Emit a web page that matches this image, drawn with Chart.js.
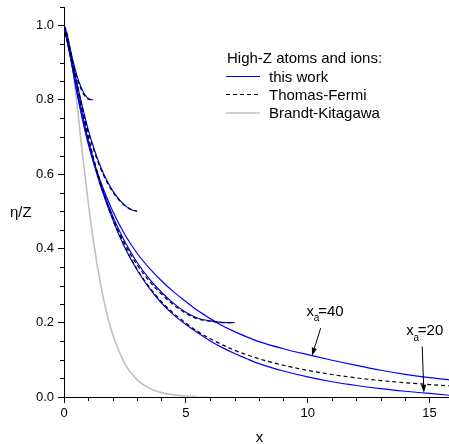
<!DOCTYPE html>
<html><head><meta charset="utf-8">
<script src="https://cdn.jsdelivr.net/npm/chart.js@4"></script>
<style>html,body{margin:0;padding:0;background:#fff;}</style>
</head><body>
<canvas id="c" width="449" height="444"></canvas>
<script>
// ---- data ----
const xTickLabels = [0, 5, 10, 15];
const yTickLabels = ['0.0', '0.2', '0.4', '0.6', '0.8', '1.0'];
const legendTitle = 'High-Z atoms and ions:';
const seriesNames = ['this work', 'Thomas-Fermi', 'Brandt-Kitagawa'];

// Thomas-Fermi, neutral atom
const tfX = [0,0.1,0.2,0.3,0.4,0.5,0.6,0.8,1.0,1.25,1.5,2,2.5,3,3.5,4,4.5,5,5.5,6,7,8,9,10,11,12,13,14,15,16];
const tfY = [1,0.981,0.952,0.919,0.886,0.852,0.819,0.756,0.698,0.632,0.574,0.479,0.404,0.344,0.296,0.257,0.225,0.199,0.176,0.157,0.126,0.103,0.0855,0.0715,0.0605,0.0515,0.0443,0.0384,0.0335,0.0294];

// this work, neutral atoms (x_a = 40 and x_a = 20)
const twX = [0,0.25,0.5,0.75,1,1.25,1.5,2,2.5,3,3.5,4,4.5,5,5.5,6,6.5,7,7.5,8,9,10,11,12,13,14,15,16];
const twY40 = [1,0.922,0.832,0.752,0.684,0.627,0.58,0.5,0.437,0.387,0.347,0.313,0.283,0.257,0.232,0.211,0.192,0.176,0.162,0.149,0.13,0.114,0.099,0.085,0.072,0.061,0.052,0.045];
const twY20 = [1,0.92,0.83,0.75,0.68,0.622,0.568,0.478,0.402,0.342,0.293,0.253,0.221,0.195,0.172,0.151,0.133,0.117,0.103,0.09,0.07,0.054,0.041,0.031,0.0225,0.0155,0.0095,0.0035];

// ions: this work (blue) and Thomas-Fermi (dashed)
const ion1X = [0,0.1,0.2,0.3,0.4,0.5,0.6,0.7,0.8,0.9,1.0,1.1,1.2];
const ion1Tw = [1,0.981,0.953,0.924,0.897,0.872,0.851,0.834,0.82,0.81,0.804,0.801,0.8];
const ion1Tf = [1,0.98,0.951,0.921,0.893,0.867,0.846,0.829,0.816,0.807,0.802,0.8005,0.8];
const ion2X = [0,0.25,0.5,0.75,1.0,1.25,1.5,1.75,2.0,2.25,2.5,2.75,3.0];
const ion2Tw = [1,0.932,0.855,0.783,0.718,0.665,0.62,0.584,0.555,0.533,0.516,0.505,0.5];
const ion2Tf = [1,0.93,0.853,0.779,0.713,0.66,0.615,0.58,0.552,0.531,0.515,0.505,0.5];
const ion3X = [0,0.5,1.0,1.5,2,2.5,3,3.5,4,4.5,5,5.5,6,6.5,7];
const ion3Tw = [1,0.84,0.69,0.575,0.487,0.418,0.362,0.318,0.282,0.252,0.228,0.212,0.205,0.201,0.2];
const ion3Tf = [1,0.85,0.698,0.576,0.483,0.412,0.356,0.312,0.277,0.248,0.225,0.21,0.204,0.2005,0.2];

// Brandt-Kitagawa
const bkX = [0,0.1,0.2,0.3,0.4,0.5,0.6,0.8,1.0,1.2,1.4,1.6,1.8,2.0,2.5,3.0,3.5,4.0,4.5,5.0,5.5,6.0];
const bkY = [1,0.988,0.958,0.915,0.863,0.807,0.748,0.630,0.521,0.424,0.341,0.271,0.214,0.168,0.0892,0.0462,0.0235,0.0118,0.0058,0.0029,0.0014,0.0007];

// annotations (data coordinates)
const annotations = [
  {sub: 'a', text: '=40', lx: 9.955, ly: 0.2194, tx: 10.533, ty: 0.1855, hx: 10.176, hy: 0.111},
  {sub: 'a', text: '=20', lx: 14.045, ly: 0.1656, tx: 14.70, ty: 0.136, hx: 14.77, hy: 0.0115}
];

const zip = (xs, ys) => xs.map((x, i) => ({x, y: ys[i]}));
const BLUE = '#0000ff', GREY = 'rgb(192,192,192)';
const FONT = '"Liberation Sans", Arial, sans-serif';

const blue = (data) => ({data, borderColor: BLUE, borderWidth: 1.2, pointRadius: 0, cubicInterpolationMode: 'monotone', fill: false, order: 2});
const dash = (data) => ({data, borderColor: '#000', borderWidth: 1.2, borderDash: [4, 3], pointRadius: 0, cubicInterpolationMode: 'monotone', fill: false, order: 1});

const datasets = [
  {label: seriesNames[2], data: zip(bkX, bkY), borderColor: GREY, borderWidth: 1.6, pointRadius: 0, cubicInterpolationMode: 'monotone', fill: false, order: 3,
    segment: {borderColor: ctx => {
      const x = ctx.p0.parsed.x;
      if (x < 4.6) return GREY;
      const a = Math.max(0, 1 - (x - 4.6) / 1.4);
      return 'rgba(192,192,192,' + a.toFixed(3) + ')';
    }}},
  Object.assign(blue(zip(twX, twY40)), {label: seriesNames[0]}),
  blue(zip(twX, twY20)),
  blue(zip(ion1X, ion1Tw)),
  blue(zip(ion2X, ion2Tw)),
  blue(zip(ion3X, ion3Tw)),
  Object.assign(dash(zip(tfX, tfY)), {label: seriesNames[1]}),
  dash(zip(ion1X, ion1Tf)),
  dash(zip(ion2X, ion2Tf)),
  dash(zip(ion3X, ion3Tf))
];

const decor = {
  id: 'decor',
  afterDraw(chart) {
    const {ctx, chartArea: ca, scales: {x, y}} = chart;
    ctx.save();
    ctx.strokeStyle = '#000';
    ctx.lineWidth = 1;
    // minor ticks
    for (let v = 1; v <= 15; v++) {
      if (v % 5 === 0) continue;
      const px = Math.round(x.getPixelForValue(v)) + 0.5;
      ctx.beginPath(); ctx.moveTo(px, ca.bottom); ctx.lineTo(px, ca.bottom + 4); ctx.stroke();
    }
    for (let i = 1; i <= 21; i++) {
      if (i % 4 === 0) continue;
      const py = Math.round(y.getPixelForValue(i * 0.05)) + 0.5;
      ctx.beginPath(); ctx.moveTo(ca.left - 4, py); ctx.lineTo(ca.left, py); ctx.stroke();
    }
    // axis titles
    ctx.fillStyle = '#000';
    ctx.font = '15px ' + FONT;
    ctx.textBaseline = 'alphabetic';
    ctx.textAlign = 'left';
    ctx.fillText('\u03B7/Z', 10, 216.5);
    ctx.textAlign = 'center';
    ctx.fillText('x', 259.5, 442);
    // legend
    ctx.textAlign = 'left';
    ctx.fillText(legendTitle, 227, 63);
    const rows = [81.5, 99.5, 118];
    const styles = [
      {c: BLUE, d: [], w: 1.2},
      {c: '#000', d: [4, 3], w: 1.2},
      {c: GREY, d: [], w: 1.6}
    ];
    rows.forEach((by, i) => {
      ctx.beginPath();
      ctx.strokeStyle = styles[i].c; ctx.lineWidth = styles[i].w; ctx.setLineDash(styles[i].d);
      ctx.moveTo(226, by - 5); ctx.lineTo(260, by - 5); ctx.stroke();
      ctx.setLineDash([]);
      ctx.fillStyle = '#000';
      ctx.fillText(seriesNames[i], 269, by);
    });
    // annotations
    annotations.forEach(a => {
      const lx = x.getPixelForValue(a.lx), ly = y.getPixelForValue(a.ly);
      ctx.fillStyle = '#000';
      ctx.font = '15px ' + FONT;
      ctx.fillText('x', lx, ly);
      ctx.font = '10px ' + FONT;
      ctx.fillText(a.sub, lx + 7.3, ly + 5.3);
      ctx.font = '15px ' + FONT;
      ctx.fillText(a.text, lx + 11.6, ly);
      const tx = x.getPixelForValue(a.tx), ty = y.getPixelForValue(a.ty);
      const hx = x.getPixelForValue(a.hx), hy = y.getPixelForValue(a.hy);
      const ang = Math.atan2(hy - ty, hx - tx);
      const L = 8, W = 2.6;
      const bx = hx - L * Math.cos(ang), by = hy - L * Math.sin(ang);
      ctx.strokeStyle = '#000'; ctx.lineWidth = 1;
      ctx.beginPath(); ctx.moveTo(tx, ty); ctx.lineTo(bx, by); ctx.stroke();
      ctx.beginPath();
      ctx.moveTo(hx, hy);
      ctx.lineTo(bx + W * Math.sin(ang), by - W * Math.cos(ang));
      ctx.lineTo(bx - W * Math.sin(ang), by + W * Math.cos(ang));
      ctx.closePath(); ctx.fill();
    });
    ctx.restore();
  }
};

new Chart(document.getElementById('c'), {
  type: 'line',
  data: {datasets},
  options: {
    responsive: false,
    animation: false,
    devicePixelRatio: 1,
    layout: {padding: {top: 7, right: 0, left: 0, bottom: 0}},
    plugins: {legend: {display: false}, tooltip: {enabled: false}},
    scales: {
      x: {
        type: 'linear', min: 0, max: 15.8,
        afterFit: s => { s.height = 47; s.paddingLeft = 0; s.paddingRight = 0; },
        border: {display: true, color: '#000', width: 1},
        grid: {display: true, drawOnChartArea: false, drawTicks: true, tickLength: 6, tickColor: '#000', tickWidth: 1},
        ticks: {stepSize: 5, includeBounds: false, autoSkip: false, maxRotation: 0, color: '#000', padding: 3,
          font: {family: FONT, size: 13},
          callback: v => xTickLabels.includes(v) ? String(v) : ''}
      },
      y: {
        type: 'linear', min: 0, max: 1.05,
        afterFit: s => { s.width = 64; s.paddingTop = 0; s.paddingBottom = 0; },
        border: {display: true, color: '#000', width: 1},
        grid: {display: true, drawOnChartArea: false, drawTicks: true, tickLength: 6, tickColor: '#000', tickWidth: 1},
        ticks: {stepSize: 0.2, includeBounds: false, autoSkip: false, color: '#000', padding: 4,
          font: {family: FONT, size: 13},
          callback: v => { const i = Math.round(v * 5); return (Math.abs(v * 5 - i) < 1e-6 && i <= 5) ? yTickLabels[i] : ''; }}
      }
    }
  },
  plugins: [decor]
});
</script>
</body></html>
